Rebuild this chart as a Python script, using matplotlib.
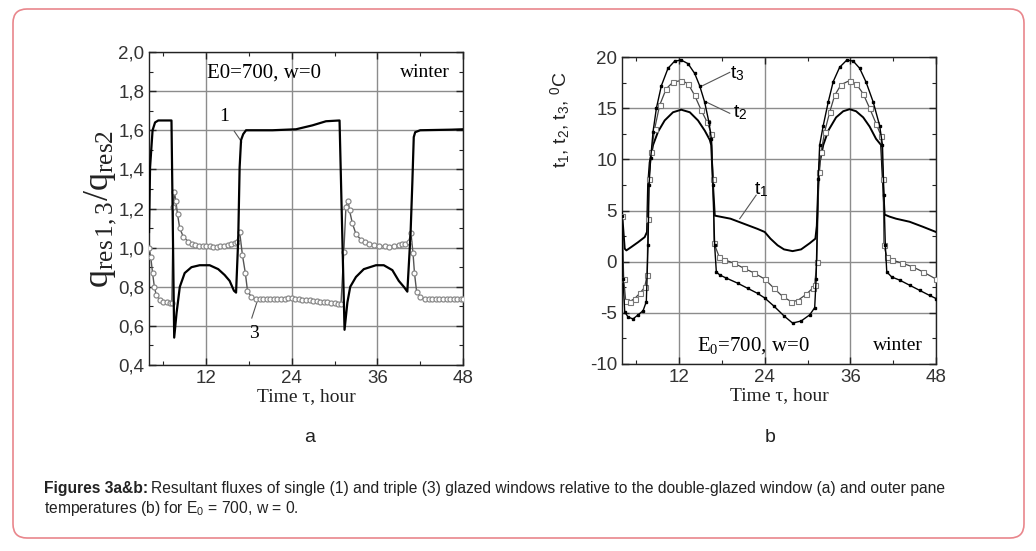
import numpy as np
import matplotlib
matplotlib.use("Agg")
import matplotlib.pyplot as plt
from matplotlib.patches import FancyBboxPatch
from matplotlib.transforms import IdentityTransform
from matplotlib.ticker import MultipleLocator, FuncFormatter

plt.rcParams['font.family'] = ['Liberation Sans', 'DejaVu Sans']
plt.rcParams['mathtext.fontset'] = 'custom'
plt.rcParams['mathtext.rm'] = 'Liberation Serif'
plt.rcParams['mathtext.it'] = 'Liberation Serif:italic'
plt.rcParams['mathtext.sf'] = 'Liberation Sans'
plt.rcParams['axes.unicode_minus'] = False

# ---- panel a: q_res1/q_res2 (curve 1) and q_res3/q_res2 (curve 3) ----
hours_q1 = [4.0, 4.15, 4.5, 4.85, 5.3, 7.15, 7.53, 7.86, 8.32, 9.0,
            9.95, 11.1, 12.5, 13.7, 14.6, 15.3, 15.9, 16.2, 16.5, 16.7,
            16.9, 17.2, 17.6, 21.3, 24.6, 26.9, 28.8, 30.7, 31.4, 31.8,
            32.2, 33.0, 34.1, 35.8, 36.9, 38.1, 39.0, 39.7, 40.2, 40.65,
            40.9, 41.1, 41.3, 42.0, 46.4, 48.0]
q1 = [1.08, 1.41, 1.60, 1.64, 1.65, 1.65, 0.54, 0.665, 0.80, 0.87,
      0.90, 0.91, 0.91, 0.89, 0.86, 0.83, 0.78, 0.77, 1.04, 1.41,
      1.55, 1.58, 1.60, 1.60, 1.605, 1.625, 1.646, 1.65, 0.58, 0.72,
      0.80, 0.85, 0.89, 0.91, 0.91, 0.885, 0.83, 0.80, 0.775, 1.07,
      1.33, 1.565, 1.59, 1.60, 1.603, 1.605]

hours_q3 = [4.0, 4.25, 4.5, 4.75, 5.0, 5.5, 6.0, 6.5, 7.0, 7.2,
            7.4, 7.55, 7.75, 8.0, 8.3, 8.8, 9.5, 10.0, 10.5, 11.0,
            11.5, 12.0, 12.5, 13.0, 13.5, 14.0, 14.5, 15.0, 15.5, 16.0,
            16.3, 16.7, 17.1, 17.5, 17.8, 18.3, 19.0, 19.5, 20.0, 20.5,
            21.0, 21.5, 22.0, 22.5, 23.0, 23.5, 24.0, 24.5, 25.0, 25.5,
            26.0, 26.5, 27.0, 27.5, 28.0, 28.5, 29.0, 29.5, 30.0, 30.5,
            30.9, 31.3, 31.6, 31.9, 32.1, 32.5, 33.0, 33.7, 34.3, 34.8,
            35.5, 36.2, 37.0, 37.6, 38.3, 39.0, 39.5, 39.9, 40.4, 40.7,
            41.0, 41.2, 41.5, 42.0, 42.7, 43.2, 43.7, 44.2, 44.7, 45.2,
            45.7, 46.2, 46.7, 47.2, 47.7, 48.0]
q3 = [1.00, 0.95, 0.87, 0.80, 0.76, 0.733, 0.724, 0.72, 0.717, 0.716,
      1.21, 1.285, 1.24, 1.17, 1.10, 1.056, 1.03, 1.02, 1.013, 1.01,
      1.008, 1.007, 1.006, 1.005, 1.005, 1.007, 1.01, 1.013, 1.018, 1.025,
      1.03, 1.08, 0.96, 0.87, 0.78, 0.75, 0.737, 0.737, 0.737, 0.737,
      0.737, 0.738, 0.738, 0.739, 0.739, 0.74, 0.74, 0.738, 0.736, 0.734,
      0.732, 0.73, 0.728, 0.726, 0.724, 0.721, 0.72, 0.718, 0.716, 0.714,
      0.712, 0.98, 1.21, 1.24, 1.19, 1.124, 1.07, 1.04, 1.027, 1.018,
      1.012, 1.008, 1.006, 1.005, 1.008, 1.013, 1.017, 1.02, 1.03, 1.077,
      0.97, 0.87, 0.775, 0.75, 0.737, 0.736, 0.736, 0.736, 0.736, 0.736,
      0.736, 0.736, 0.736, 0.736, 0.736, 0.736]

# ---- panel b: outer pane temperatures t1, t2, t3 ----
hours_t1 = [4.0, 4.38, 4.61, 5.3, 6.25, 7.18, 7.5, 7.65, 7.88, 8.35,
            9.05, 9.98, 11.15, 12.3, 13.5, 14.65, 15.6, 16.3, 16.5, 16.75,
            17.0, 19.2, 21.1, 23.0, 24.0, 24.8, 25.8, 26.7, 27.9, 29.1,
            30.3, 31.1, 31.3, 31.5, 31.7, 32.2, 32.9, 34.0, 35.0, 35.9,
            36.8, 37.8, 38.7, 39.6, 40.3, 40.6, 40.8, 41.5, 42.4, 44.3,
            46.2, 48.0]
t1 = [4.8, 1.27, 1.1, 1.43, 1.9, 2.4, 2.9, 7.5, 9.7, 11.4,
      12.7, 13.8, 14.6, 14.85, 14.6, 13.8, 12.8, 11.9, 11.4, 7.5,
      4.5, 4.2, 3.7, 3.2, 2.9, 2.25, 1.6, 1.2, 1.03, 1.2,
      1.8, 2.25, 3.5, 7.5, 9.7, 11.4, 12.8, 14.1, 14.7, 14.9,
      14.7, 14.1, 13.2, 12.0, 11.4, 7.2, 4.6, 4.4, 4.2, 3.9,
      3.4, 2.9]

hours_t2 = [4.0, 4.24, 4.52, 5.08, 5.78, 6.48, 7.18, 7.51, 7.65, 7.79,
            8.12, 8.58, 9.28, 10.2, 11.15, 12.3, 13.25, 14.18, 15.1, 15.96,
            16.52, 16.75, 16.9, 17.6, 18.3, 19.7, 21.1, 22.5, 24.0, 25.3,
            26.5, 27.7, 28.6, 29.8, 30.7, 31.0, 31.3, 31.6, 31.9, 32.4,
            33.1, 33.8, 34.7, 35.9, 36.8, 37.8, 38.7, 39.6, 40.3, 40.6,
            40.7, 41.1, 41.9, 43.3, 44.7, 46.2, 48.0]
t2 = [4.5, -1.7, -3.8, -3.9, -3.6, -3.1, -2.5, -1.3, 4.2, 8.1,
      10.7, 13.0, 15.3, 16.9, 17.55, 17.7, 17.4, 16.25, 14.8, 13.6,
      12.5, 8.1, 1.8, 0.5, 0.2, -0.15, -0.65, -1.1, -1.7, -2.6,
      -3.4, -3.9, -3.8, -3.2, -2.6, -2.3, 0.0, 8.8, 10.7, 12.7,
      14.6, 16.25, 17.3, 17.7, 17.4, 16.4, 15.0, 13.5, 12.3, 8.1,
      1.6, 0.5, 0.15, -0.15, -0.5, -1.0, -1.7]

hours_t3 = [4.0, 4.14, 4.38, 4.84, 5.54, 6.25, 6.95, 7.41, 7.65, 7.79,
            8.02, 8.35, 8.82, 9.52, 10.45, 11.38, 12.3, 13.25, 14.18, 14.88,
            15.58, 16.19, 16.52, 16.75, 16.98, 17.22, 17.7, 18.6, 20.2, 21.6,
            23.0, 24.0, 25.3, 26.7, 27.9, 29.1, 30.3, 31.0, 31.2, 31.5,
            31.7, 32.2, 32.9, 33.6, 34.5, 35.5, 36.4, 37.3, 38.2, 39.2,
            40.1, 40.5, 40.7, 40.9, 41.1, 41.8, 42.9, 44.3, 45.7, 47.1,
            48.0]
t3 = [4.5, -1.7, -4.9, -5.4, -5.6, -5.2, -4.8, -3.9, 1.6, 7.5,
      10.1, 12.7, 15.0, 17.2, 18.9, 19.6, 19.7, 19.35, 18.4, 17.2,
      15.6, 13.6, 12.0, 7.5, 1.6, -1.0, -1.3, -1.6, -2.1, -2.6,
      -3.1, -3.55, -4.35, -5.3, -6.0, -5.8, -5.2, -4.5, -1.7, 8.1,
      11.4, 13.3, 15.6, 17.6, 19.0, 19.7, 19.6, 18.9, 17.55, 15.6,
      13.3, 11.4, 6.5, 1.6, -1.0, -1.5, -1.8, -2.3, -2.8, -3.3,
      -3.6]

W, H = 1036, 551
fig = plt.figure(figsize=(W / 100, H / 100), dpi=100)


def fx(x):
    return x / W


def fy(y):
    return 1 - y / H


def style_axes(ax):
    ax.set_xlim(4, 48)
    ax.xaxis.set_major_locator(MultipleLocator(12))
    ax.xaxis.set_minor_locator(MultipleLocator(6))
    ax.tick_params(which='both', direction='in', top=True, right=True,
                   color='#222222', labelcolor='#333333', labelsize=13.5)
    ax.tick_params(which='major', length=5, width=1)
    ax.tick_params(which='minor', length=3, width=0.8)
    ax.grid(True, which='major', color='#8c8c8c', lw=1.0)
    ax.set_axisbelow(True)
    for s in ax.spines.values():
        s.set_color('#222222')
        s.set_linewidth(1.0)
    ax.set_xlabel('Time \u03c4, hour', family='Liberation Serif',
                  fontsize=14, color='#222222', labelpad=1)


serif = 'Liberation Serif'

# ---- panel a ----
ax1 = fig.add_axes([fx(149), fy(365), fx(463) - fx(149), fy(52) - fy(365)])
style_axes(ax1)
ax1.set_ylim(0.4, 2.0)
ax1.yaxis.set_major_locator(MultipleLocator(0.2))
ax1.yaxis.set_minor_locator(MultipleLocator(0.1))
ax1.yaxis.set_major_formatter(FuncFormatter(lambda v, p: f'{v:.1f}'.replace('.', ',')))

ax1.plot(hours_q3, q3, color='#555555', lw=1.0, marker='o', ms=3.6,
         mfc='white', mec='#8a8a8a', mew=0.9, zorder=3)
ax1.plot(hours_q1, q1, color='black', lw=1.6, zorder=4)

ax1.text(14.6, 1.67, '1', family=serif, fontsize=14, ha='center', va='center')
ax1.plot([15.95, 16.98], [1.595, 1.54], color='#555555', lw=0.8)
ax1.text(18.7, 0.56, '3', family=serif, fontsize=14, ha='center', va='center')
ax1.plot([18.4, 19.2], [0.64, 0.73], color='#555555', lw=0.8)
ax1.text(12.1, 1.89, 'E0=700, w=0', family=serif, fontsize=15, va='center')
ax1.text(39.1, 1.895, 'winter', family=serif, fontsize=14, va='center')
ax1.set_ylabel(r'$\mathrm{q}_{\mathrm{res\,1,3}}/\mathrm{q}_{\mathrm{res2}}$',
               fontsize=26, color='#222222', labelpad=0)

# ---- panel b ----
ax2 = fig.add_axes([fx(622), fy(364), fx(936) - fx(622), fy(57) - fy(364)])
style_axes(ax2)
ax2.set_ylim(-10, 20)
ax2.yaxis.set_major_locator(MultipleLocator(5))
ax2.yaxis.set_minor_locator(MultipleLocator(2.5))

ax2.plot(hours_t1, t1, color='black', lw=1.4, zorder=3)
ax2.plot(hours_t2, t2, color='#444444', lw=0.9, marker='s', ms=3.6,
         mfc='white', mec='#777777', mew=0.8, zorder=4)
ax2.plot(hours_t3, t3, color='black', lw=1.0, marker='s', ms=2.0,
         mfc='black', mec='black', zorder=5)

ax2.text(20.2, 18.4, r'$\mathsf{t}_{\mathsf{3}}$', fontsize=14, ha='center', va='center')
ax2.plot([19.1, 15.3], [18.5, 17.2], color='#555555', lw=0.8)
ax2.text(20.5, 14.6, r'$\mathsf{t}_{\mathsf{2}}$', fontsize=14, ha='center', va='center')
ax2.plot([19.1, 15.8], [14.5, 15.6], color='#555555', lw=0.8)
ax2.text(23.5, 7.0, r'$\mathsf{t}_{\mathsf{1}}$', fontsize=14, ha='center', va='center')
ax2.plot([22.8, 20.5], [6.5, 4.2], color='#555555', lw=0.8)
ax2.text(14.5, -8.15, r'E$_\mathrm{0}$=700, w=0', family=serif, fontsize=15, va='center')
ax2.text(39.1, -8.15, 'winter', family=serif, fontsize=14, va='center')
ax2.set_ylabel(r't$_\mathsf{1}$, t$_\mathsf{2}$, t$_\mathsf{3}$, $^\mathsf{0}$C',
               fontsize=14, color='#222222')
ax2.yaxis.set_label_coords(-0.16, 0.795)

# ---- sub-figure letters and caption ----
fig.text(fx(310), fy(437), 'a', fontsize=14, ha='center', va='center', color='#222222')
fig.text(fx(770), fy(437), 'b', fontsize=14, ha='center', va='center', color='#222222')

cap_size = 11.25
cap_bold = fig.text(fx(44), fy(489), 'Figures 3a&b:', fontsize=cap_size,
                    fontweight='bold', va='center', color='#222222')
fig.canvas.draw()
bb = cap_bold.get_window_extent(fig.canvas.get_renderer())
fig.text(bb.x1 / W + 0.003, fy(489),
         'Resultant fluxes of single (1) and triple (3) glazed windows relative to '
         'the double-glazed window (a) and outer pane',
         fontsize=cap_size, va='center', color='#222222')
fig.text(fx(44), fy(508), r'temperatures (b) for E$_\mathsf{0}$ = 700, w = 0.',
         fontsize=cap_size, va='center', color='#222222')

border = FancyBboxPatch((13, H - 538), 1011, 529,
                        boxstyle='round,pad=0,rounding_size=14',
                        transform=IdentityTransform(), fill=False,
                        ec='#e9868c', lw=1.2)
fig.add_artist(border)

fig.savefig('out.png', dpi=100)
